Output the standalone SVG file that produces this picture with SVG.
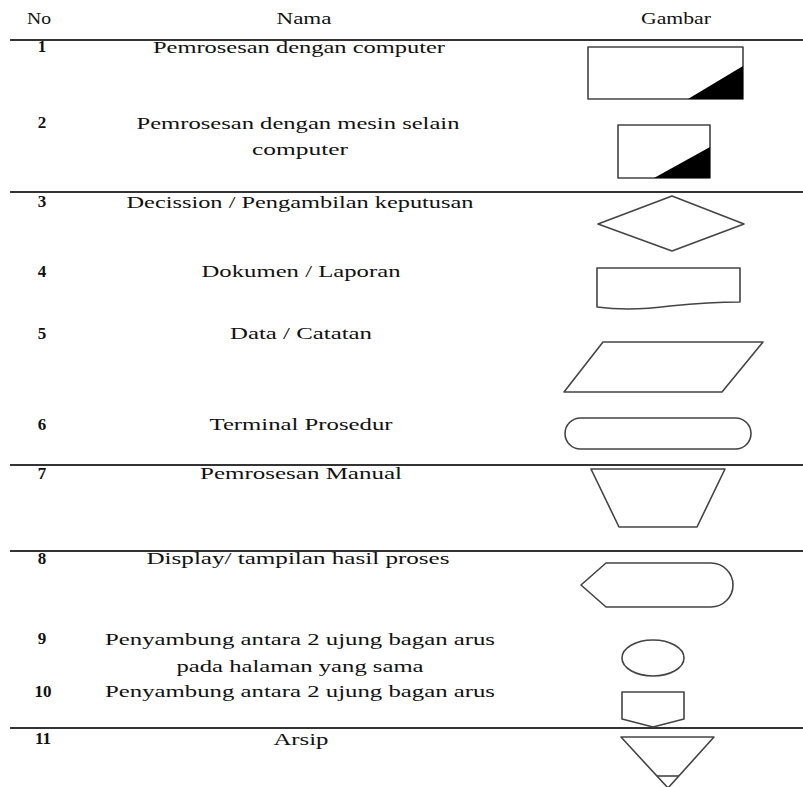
<svg xmlns="http://www.w3.org/2000/svg" width="803" height="787" viewBox="0 0 803 787">
<style>
.t{font-family:"Liberation Serif","Times New Roman",serif;font-size:17px;fill:#111;text-anchor:middle}
.n{font-family:"Liberation Serif","Times New Roman",serif;font-size:17px;fill:#111;text-anchor:middle;font-weight:bold}
.rule{stroke:#333;stroke-width:2;fill:none}
.s{fill:#fff;stroke:#444;stroke-width:1.6;stroke-linejoin:round}
.blk{fill:#000;stroke:none}
</style>
<rect width="803" height="787" fill="#fff"/>
<g id="rules">
<line class="rule" x1="10" y1="40" x2="803" y2="40"/>
<line class="rule" x1="10" y1="192" x2="803" y2="192"/>
<line class="rule" x1="10" y1="465" x2="803" y2="465"/>
<line class="rule" x1="10" y1="551" x2="803" y2="551"/>
<line class="rule" x1="10" y1="728" x2="803" y2="728"/>
</g>
<g id="header">
<text class="t" x="39" y="24" textLength="24" lengthAdjust="spacingAndGlyphs">No</text>
<text class="t" x="304" y="24" textLength="55" lengthAdjust="spacingAndGlyphs">Nama</text>
<text class="t" x="676" y="24" textLength="70" lengthAdjust="spacingAndGlyphs">Gambar</text>
</g>
<g id="row1">
<text class="n" x="42" y="52">1</text>
<text class="t" x="299" y="53" textLength="292" lengthAdjust="spacingAndGlyphs">Pemrosesan dengan computer</text>
<rect class="s" x="588" y="47" width="155" height="52"/>
<polygon class="blk" points="688,99 743,66 743,99"/>
</g>
<g id="row2">
<text class="n" x="42" y="128">2</text>
<text class="t" x="298" y="129" textLength="323" lengthAdjust="spacingAndGlyphs">Pemrosesan dengan mesin selain</text>
<text class="t" x="300" y="155" textLength="96" lengthAdjust="spacingAndGlyphs">computer</text>
<rect class="s" x="618" y="125" width="92" height="53"/>
<polygon class="blk" points="654,178 710,147 710,178"/>
</g>
<g id="row3">
<text class="n" x="42" y="207">3</text>
<text class="t" x="300" y="208" textLength="347" lengthAdjust="spacingAndGlyphs">Decission / Pengambilan keputusan</text>
<polygon class="s" points="672,196 744,224 672,251 598,224"/>
</g>
<g id="row4">
<text class="n" x="42" y="277">4</text>
<text class="t" x="301" y="277" textLength="199" lengthAdjust="spacingAndGlyphs">Dokumen / Laporan</text>
<path class="s" d="M597,268 H740 V302 C715,302 700,303 670,306 C640,310 620,310 597,307 Z"/>
</g>
<g id="row5">
<text class="n" x="42" y="339">5</text>
<text class="t" x="301" y="339" textLength="142" lengthAdjust="spacingAndGlyphs">Data / Catatan</text>
<polygon class="s" points="603,342 763,342 722,392 564,392"/>
</g>
<g id="row6">
<text class="n" x="42" y="430">6</text>
<text class="t" x="301" y="430" textLength="183" lengthAdjust="spacingAndGlyphs">Terminal Prosedur</text>
<rect class="s" x="565" y="418" width="186" height="31" rx="15.5" ry="15.5"/>
</g>
<g id="row7">
<text class="n" x="42" y="479">7</text>
<text class="t" x="301" y="479" textLength="202" lengthAdjust="spacingAndGlyphs">Pemrosesan Manual</text>
<polygon class="s" points="591,469 725,469 697,527 619,527"/>
</g>
<g id="row8">
<text class="n" x="42" y="564">8</text>
<text class="t" x="298" y="564" textLength="303" lengthAdjust="spacingAndGlyphs">Display/ tampilan hasil proses</text>
<path class="s" d="M581,585 L606,563 H711 A22,22 0 0 1 711,607 H606 Z"/>
</g>
<g id="row9">
<text class="n" x="42" y="644">9</text>
<text class="t" x="300" y="645" textLength="390" lengthAdjust="spacingAndGlyphs">Penyambung antara 2 ujung bagan arus</text>
<text class="t" x="300" y="672" textLength="247" lengthAdjust="spacingAndGlyphs">pada halaman yang sama</text>
<ellipse class="s" cx="653" cy="658" rx="31" ry="18"/>
</g>
<g id="row10">
<text class="n" x="43" y="697">10</text>
<text class="t" x="300" y="697" textLength="390" lengthAdjust="spacingAndGlyphs">Penyambung antara 2 ujung bagan arus</text>
<polygon class="s" points="622,692 684,692 684,719 653,727 622,719"/>
</g>
<g id="row11">
<text class="n" x="43" y="744">11</text>
<text class="t" x="301" y="745" textLength="55" lengthAdjust="spacingAndGlyphs">Arsip</text>
<polygon class="s" points="621,737 714,737 668,788"/>
<line class="s" x1="657" y1="776" x2="679" y2="776"/>
</g>
</svg>
